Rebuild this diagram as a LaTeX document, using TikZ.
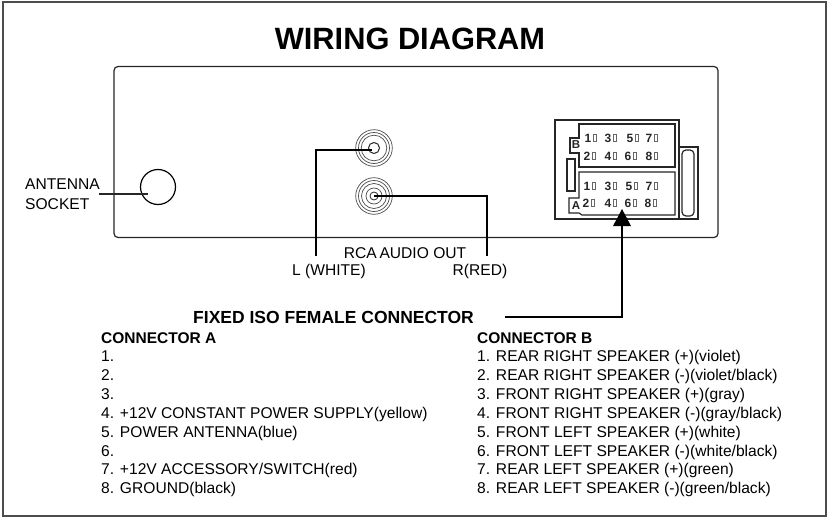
\documentclass[tikz,border=0pt]{standalone}
\usepackage{fontspec}
\setmainfont{Liberation Sans}
\tikzset{
  ln/.style={draw=black!85,line width=1.2pt},
  thin ring/.style={draw=black!70,line width=.7pt},
  wire/.style={draw=black,line width=1.7pt},
  lbl/.style={inner sep=0pt,anchor=base west,font=\fontsize{15.6}{16}\selectfont},
  hd/.style={inner sep=0pt,anchor=base west,font=\fontsize{15.5}{16}\selectfont\bfseries},
  pin/.style={inner sep=0pt,anchor=center,text=black!85,font=\fontsize{12}{13}\selectfont\bfseries},
  pinbox/.style={draw=black!60,line width=.6pt,minimum width=3.5pt,minimum height=7.5pt,inner sep=0pt},
  tag/.style={inner sep=0pt,anchor=center,text=black!85,font=\fontsize{11.5}{13}\selectfont\bfseries}
}
\begin{document}
\begin{tikzpicture}[x=1pt,y=-1pt]
\useasboundingbox (0,0) rectangle (830,519);
\fill[white] (0,0) rectangle (830,519);
\node[draw=black!70,line width=1.6pt,minimum width=823pt,minimum height=514pt,inner sep=0pt] (frame) at (414.5,259) {};
\node[inner sep=0pt,font=\fontsize{30.8}{32}\selectfont\bfseries] (title) at (410,39) {WIRING DIAGRAM};
\node[ln,rounded corners=4pt,minimum width=604pt,minimum height=171pt,inner sep=0pt] (unit) at (416,152) {};
% antenna
\node[draw=black,line width=1.2pt,circle,minimum size=35pt,inner sep=0pt] (ant) at (158,187) {};
\node[lbl] (antA) at (25,189.5) {ANTENNA};
\node[lbl] (antB) at (25,209) {SOCKET};
\coordinate (antL) at (99,194);
\coordinate (antR) at (148,194);
\draw[ln] (antL) -- (antR);
% RCA
\coordinate (rcaT) at (374,148);
\coordinate (rcaB) at (374,196);
\foreach \c/\rr in {rcaT/18.3,rcaT/15.5,rcaT/12.8,rcaB/18.3,rcaB/15.5,rcaB/12.5,rcaB/8}
  \draw[thin ring] (\c) circle (\rr);
\draw[draw=black!85,line width=1pt] (rcaT) circle (5.5);
\draw[draw=black!85,line width=.8pt] (rcaB) circle (4);
\coordinate (lEnd) at (316,256);
\coordinate (lCor) at (316,150);
\coordinate (lIn) at (372,150);
\coordinate (rEnd) at (487,256);
\coordinate (rCor) at (487,196);
\coordinate (rIn) at (374,196);
\draw[wire] (lEnd) -- (lCor) -- (lIn);
\draw[wire] (rEnd) -- (rCor) -- (rIn);
\node[lbl,anchor=base] (rcaL) at (405,258) {RCA\kern-1.5pt\ AUDIO OUT};
\node[lbl,anchor=base] (lL) at (329,275) {L (WHITE)};
\node[lbl,anchor=base] (rL) at (480,275) {R(RED)};
% ISO connector
\draw[ln] (555,120) -- (679,120) -- (679,147) -- (698,147) -- (698,219) -- (555,219) -- cycle;
\draw[ln] (679,147) -- (679,219);
\draw[ln,rounded corners=4pt] (682,150) rectangle (694,216);
\draw[ln] (579,124) -- (675,124) -- (675,167) -- (579,167) -- (579,153) -- (570,153) -- (570,138) -- (579,138) -- cycle;
\draw[ln] (579,172) -- (675,172) -- (675,215) -- (582,215) -- (579,213) -- (569,213) -- (569,198) -- (579,198) -- cycle;
\draw[ln,fill=white] (567,159) rectangle (575,191);
\node[tag] (B) at (576,145) {B};
\node[tag] (A) at (576,206) {A};
\foreach \n/\x/\y in {1/588/138,3/608/138,5/630/138,7/649/138,2/587/156,4/608/156,6/628/156,8/649/156}{
  \node[pin] (b\n) at (\x,\y) {\n}; \node[pinbox] (bb\n) at (\x+7,\y) {};}
\foreach \n/\x/\y in {1/587/186,3/608/186,5/629/186,7/649/186,2/586/203,4/608/203,6/628/203,8/648/203}{
  \node[pin] (a\n) at (\x,\y) {\n}; \node[pinbox] (ab\n) at (\x+7,\y) {};}
% arrow
\coordinate (isoTip) at (622,209);
\coordinate (isoBase) at (622,226);
\coordinate (isoCor) at (622,317);
\coordinate (isoEnd) at (505,317);
\fill[black] (isoTip) -- (613,226) -- (631,226) -- cycle;
\draw[wire] (isoBase) -- (isoCor) -- (isoEnd);
\node[hd,font=\fontsize{17.5}{18}\selectfont\bfseries] (iso) at (193,323) {FIXED ISO FEMALE CONNECTOR};
% lists
\node[hd] (ca) at (101,343) {CONNECTOR A};
\node[lbl] (a1) at (101,361) {1.};
\node[lbl] (a2) at (101,380) {2.};
\node[lbl] (a3) at (101,399) {3.};
\node[lbl] (a4) at (101,418) {4. +12V CONSTANT POWER SUPPLY(yellow)};
\node[lbl] (a5) at (101,437) {5. POWER ANTENNA(blue)};
\node[lbl] (a6) at (101,456) {6.};
\node[lbl] (a7) at (101,474) {7. +12V ACCESSORY/SWITCH(red)};
\node[lbl] (a8) at (101,493) {8. GROUND(black)};
\node[hd] (cb) at (477,343) {CONNECTOR B};
\node[lbl] (c1) at (477,361) {1. REAR RIGHT SPEAKER (+)(violet)};
\node[lbl] (c2) at (477,380) {2. REAR RIGHT SPEAKER (-)(violet/black)};
\node[lbl] (c3) at (477,399) {3. FRONT RIGHT SPEAKER (+)(gray)};
\node[lbl] (c4) at (477,418) {4. FRONT RIGHT SPEAKER (-)(gray/black)};
\node[lbl] (c5) at (477,437) {5. FRONT LEFT SPEAKER (+)(white)};
\node[lbl] (c6) at (477,456) {6. FRONT LEFT SPEAKER (-)(white/black)};
\node[lbl] (c7) at (477,474) {7. REAR LEFT SPEAKER (+)(green)};
\node[lbl] (c8) at (477,493) {8. REAR LEFT SPEAKER (-)(green/black)};
\end{tikzpicture}
\end{document}
